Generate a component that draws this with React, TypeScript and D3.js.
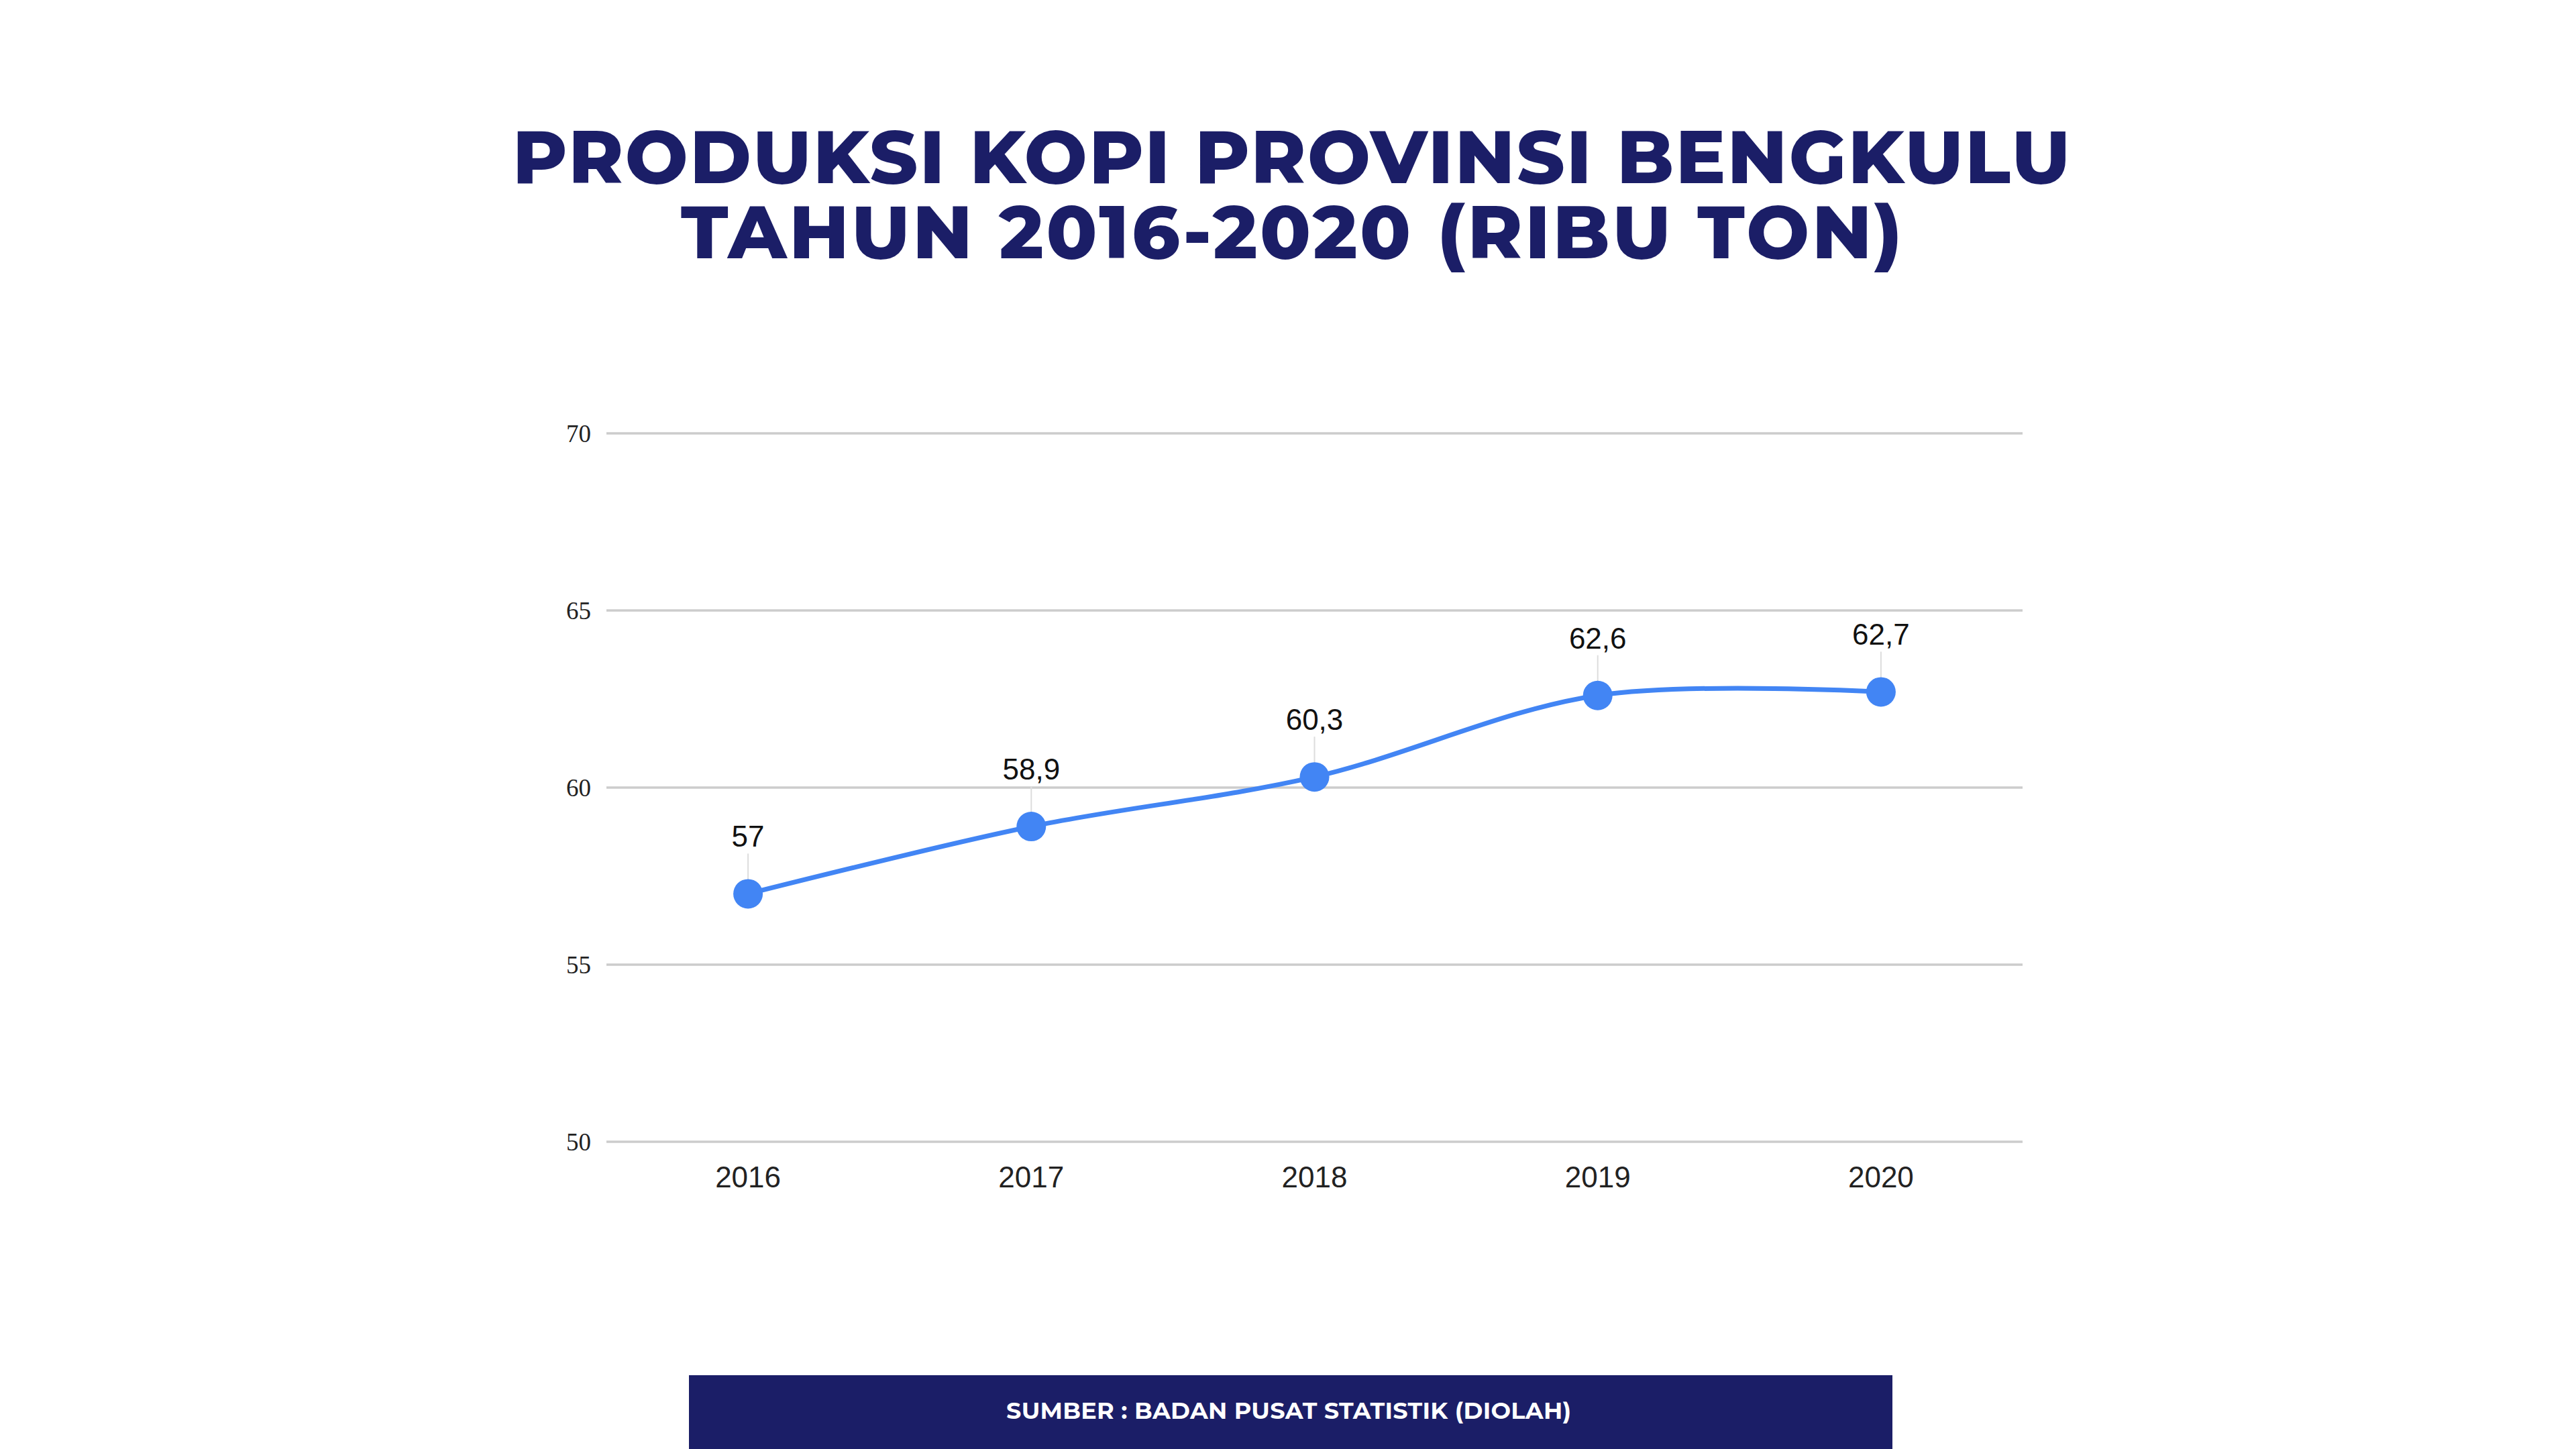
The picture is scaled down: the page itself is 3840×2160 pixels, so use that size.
import React, {useRef, useEffect} from 'react';
import * as d3 from 'd3';

const years = ['2016', '2017', '2018', '2019', '2020'];
const production = [57, 58.9, 60.3, 62.6, 62.7];
const yTicks = [50, 55, 60, 65, 70];
const titleLines = ['PRODUKSI KOPI PROVINSI BENGKULU', 'TAHUN 2016-2020 (RIBU TON)'];
const sourceText = 'SUMBER : BADAN PUSAT STATISTIK (DIOLAH)';

const W = 3840;
const H = 2160;
const navy = '#1b1e67';
const blue = '#4285f4';

const idLocale = d3.formatLocale({decimal: ',', thousands: '.', grouping: [3], currency: ['Rp', '']});
const fmt = idLocale.format('~r');

const App: React.FC = () => {
    const ref = useRef<SVGSVGElement | null>(null);

    useEffect(() => {
        if (!ref.current) return;
        const svg = d3.select(ref.current);
        svg.selectAll('*').remove();

        const left = 904, right = 3015, top = 646, bottom = 1702;

        const x = d3.scaleBand<string>().domain(years).range([left, right]);
        const y = d3.scaleLinear().domain([50, 70]).range([bottom, top]);
        const cx = (d: string) => (x(d) as number) + x.bandwidth() / 2;

        svg.append('rect').attr('width', W).attr('height', H).attr('fill', '#fff');

        // title
        const title = svg.append('g')
            .attr('font-family', "Montserrat, 'Open Sans', 'Noto Sans', sans-serif")
            .attr('font-weight', 800)
            .attr('fill', navy)
            .attr('text-anchor', 'middle')
            .attr('font-size', 111);
        title.selectAll('text')
            .data(titleLines)
            .join('text')
            .attr('x', 1925)
            .attr('y', (d, i) => 273 + i * 112)
            .attr('textLength', (d, i) => i === 0 ? 2322 : 1820)
            .attr('lengthAdjust', 'spacing')
            .text(d => d);

        // gridlines + y labels
        const grid = svg.append('g');
        grid.selectAll('line')
            .data(yTicks)
            .join('line')
            .attr('x1', left)
            .attr('x2', right)
            .attr('y1', d => y(d))
            .attr('y2', d => y(d))
            .attr('stroke', '#cccccc')
            .attr('stroke-width', 3.5);
        grid.selectAll('text')
            .data(yTicks)
            .join('text')
            .attr('x', 881)
            .attr('y', d => y(d))
            .attr('dy', '0.35em')
            .attr('text-anchor', 'end')
            .attr('font-family', "'Liberation Serif', 'Times New Roman', serif")
            .attr('font-size', 37)
            .attr('fill', '#222')
            .text(d => d);

        // x labels
        svg.append('g')
            .selectAll('text')
            .data(years)
            .join('text')
            .attr('x', d => cx(d))
            .attr('y', 1770)
            .attr('text-anchor', 'middle')
            .attr('font-family', "'Liberation Sans', Arial, sans-serif")
            .attr('font-size', 44)
            .attr('fill', '#222')
            .text(d => d);

        const pts = years.map((d, i) => ({year: d, value: production[i]}));

        // annotation stems
        svg.append('g')
            .selectAll('line')
            .data(pts)
            .join('line')
            .attr('x1', d => cx(d.year))
            .attr('x2', d => cx(d.year))
            .attr('y1', d => y(d.value) - 60)
            .attr('y2', d => y(d.value))
            .attr('stroke', '#dddddd')
            .attr('stroke-width', 2);

        const line = d3.line<{year: string, value: number}>()
            .x(d => cx(d.year))
            .y(d => y(d.value))
            .curve(d3.curveCatmullRom.alpha(0.5));

        svg.append('path')
            .datum(pts)
            .attr('d', line)
            .attr('fill', 'none')
            .attr('stroke', blue)
            .attr('stroke-width', 7)
            .attr('stroke-linecap', 'round');

        svg.append('g')
            .selectAll('circle')
            .data(pts)
            .join('circle')
            .attr('cx', d => cx(d.year))
            .attr('cy', d => y(d.value))
            .attr('r', 22)
            .attr('fill', blue);

        // value labels
        svg.append('g')
            .selectAll('text')
            .data(pts)
            .join('text')
            .attr('x', d => cx(d.year))
            .attr('y', d => y(d.value) - 70)
            .attr('text-anchor', 'middle')
            .attr('font-family', "'Liberation Sans', Arial, sans-serif")
            .attr('font-size', 44)
            .attr('fill', '#111')
            .text(d => fmt(d.value));

        // source banner
        svg.append('rect')
            .attr('x', 1027)
            .attr('y', 2050)
            .attr('width', 2821 - 1027)
            .attr('height', H - 2050)
            .attr('fill', navy);
        svg.append('text')
            .attr('x', 1921)
            .attr('y', 2115)
            .attr('text-anchor', 'middle')
            .attr('font-family', "Montserrat, 'Open Sans', 'Noto Sans', sans-serif")
            .attr('font-weight', 700)
            .attr('font-size', 35)
            .attr('fill', '#fff')
            .attr('textLength', 842)
            .attr('lengthAdjust', 'spacing')
            .text(sourceText);

        return () => {
            // eslint-disable-next-line react-hooks/exhaustive-deps
            d3.select(ref.current).selectAll('*').remove();
        };
    }, []);

    return <svg ref={ref} width={W} height={H} style={{position: 'absolute', left: 0, top: 0, display: 'block'}}></svg>;
};

export default App;
